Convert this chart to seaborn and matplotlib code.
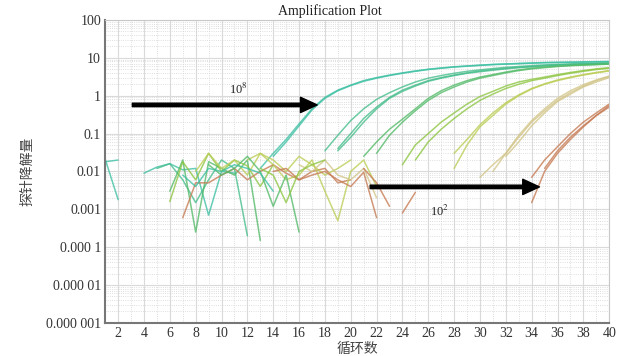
import numpy as np
import pandas as pd
import matplotlib
matplotlib.use("Agg")
import matplotlib.pyplot as plt
from matplotlib.ticker import FixedLocator, MultipleLocator, LogLocator, NullFormatter
import seaborn as sns

# ---- data: amplification curves (start cycle, values per cycle) ----
g8a = (13, [0.012, 0.03, 0.07, 0.18, 0.45, 0.9, 1.4, 1.9, 2.5, 3.0, 3.5, 4.0, 4.5, 5.0,
            5.4, 5.8, 6.1, 6.4, 6.7, 6.9, 7.1, 7.3, 7.5, 7.6, 7.7, 7.8, 7.9, 8.0])
g8b = (14, [0.025, 0.06, 0.16, 0.42, 0.85, 1.35, 1.85, 2.4, 2.9, 3.4, 3.9, 4.4, 4.9, 5.3,
            5.7, 6.0, 6.3, 6.6, 6.8, 7.0, 7.2, 7.4, 7.5, 7.6, 7.7, 7.8, 7.9])
g7a = (18, [0.035, 0.09, 0.22, 0.45, 0.8, 1.2, 1.7, 2.3, 2.9, 3.4, 3.9, 4.4, 4.8, 5.2,
            5.6, 5.9, 6.2, 6.5, 6.7, 6.9, 7.1, 7.2, 7.3])
g7b = (19, [0.04, 0.1, 0.25, 0.5, 0.9, 1.4, 1.9, 2.5, 3.0, 3.5, 4.0, 4.5, 4.9, 5.3,
            5.6, 5.9, 6.2, 6.5, 6.7, 6.9, 7.0, 7.1])
g7c = (19, [0.035, 0.08, 0.2, 0.45, 0.85, 1.3, 1.8, 2.4, 2.9, 3.4, 3.9, 4.3, 4.7, 5.1,
            5.5, 5.8, 6.1, 6.4, 6.6, 6.8, 7.0, 7.2])
g6a = (21, [0.025, 0.06, 0.13, 0.24, 0.45, 0.85, 1.35, 1.9, 2.5, 3.1, 3.6, 4.2, 4.8, 5.3,
            5.7, 6.0, 6.3, 6.5, 6.7, 6.9])
g6b = (22, [0.03, 0.09, 0.2, 0.4, 0.75, 1.2, 1.7, 2.3, 2.9, 3.4, 4.0, 4.6, 5.1, 5.5,
            5.9, 6.2, 6.4, 6.6, 6.8])
g5a = (24, [0.015, 0.05, 0.1, 0.2, 0.35, 0.6, 0.95, 1.3, 1.8, 2.3, 2.7, 3.1, 3.6, 4.1,
            4.6, 5.1, 5.5])
g5b = (25, [0.02, 0.06, 0.13, 0.25, 0.45, 0.75, 1.1, 1.55, 2.0, 2.5, 2.9, 3.4, 3.9, 4.4,
            4.9, 5.3])
g4a = (28, [0.012, 0.05, 0.15, 0.3, 0.6, 1.0, 1.5, 2.0, 2.5, 3.0, 3.5, 4.0, 4.5])
g4b = (28, [0.03, 0.07, 0.17, 0.35, 0.65, 1.05, 1.55, 2.05, 2.6, 3.1, 3.6, 4.1, 4.6])
g3a = (30, [0.007, 0.015, 0.03, 0.08, 0.2, 0.4, 0.75, 1.2, 1.8, 2.5, 3.2])
g3b = (31, [0.01, 0.03, 0.09, 0.22, 0.45, 0.85, 1.35, 1.95, 2.6, 3.3])
g3c = (32, [0.025, 0.06, 0.16, 0.35, 0.7, 1.1, 1.7, 2.3, 3.0])
g2a = (34, [0.0015, 0.01, 0.03, 0.07, 0.15, 0.3, 0.55])
g2b = (34, [0.007, 0.02, 0.045, 0.1, 0.2, 0.35, 0.6])
g2c = (35, [0.012, 0.035, 0.08, 0.16, 0.3, 0.5])

# ---- data: noisy baseline pieces (start cycle, values) ----
n1 = (1, [0.021, 0.0018])
n2 = (1, [0.018, 0.02])
n3 = (4, [0.009, 0.013, 0.016, 0.011, 0.012, 0.0007, 0.01, 0.009])
n4 = (5, [0.012, 0.016, 0.006, 0.0015, 0.006, 0.02, 0.012, 0.0002])
n5 = (6, [0.003, 0.02, 0.00025, 0.018, 0.012, 0.008, 0.02, 0.00015])
n6 = (6, [0.0016, 0.018, 0.006, 0.03, 0.01, 0.02, 0.014, 0.004, 0.015])
n7 = (7, [0.0006, 0.005, 0.005, 0.008, 0.012, 0.006, 0.01, 0.015, 0.009, 0.006, 0.01,
          0.012, 0.005, 0.006])
n8 = (8, [0.01, 0.03, 0.012, 0.02, 0.008, 0.03, 0.02, 0.01, 0.025, 0.015, 0.008, 0.012, 0.02])
n9 = (12, [0.02, 0.03, 0.015, 0.006, 0.008, 0.02, 0.003, 0.0005, 0.01, 0.02, 0.004])
n10 = (9, [0.015, 0.008, 0.012, 0.025, 0.01, 0.0012, 0.008, 0.00025])
n11 = (14, [0.01, 0.012, 0.006, 0.008, 0.01, 0.006, 0.004, 0.0095, 0.0006])
n12 = (24, [0.0008, 0.0028])
n13 = (16, [0.015, 0.01, 0.02, 0.008, 0.006, 0.012, 0.002])
n14 = (7, [0.008, 0.004, 0.012, 0.01, 0.015, 0.012, 0.009, 0.003])
n15 = (13, [0.012, 0.008, 0.0015, 0.01, 0.015, 0.02])
n16 = (21, [0.012, 0.005, 0.0012])

c8, c7, c6, c5, c4, c3, c2 = "#3dc0a3", "#45bd8b", "#52ba68", "#8cc540", "#bccd55", "#d2c588", "#c67a52"

curves = {
    "g8a": (g8a, c8), "g8b": (g8b, c8), "g7a": (g7a, c7), "g7b": (g7b, c7), "g7c": (g7c, c7),
    "g6a": (g6a, c6), "g6b": (g6b, c6), "g5a": (g5a, c5), "g5b": (g5b, c5),
    "g4a": (g4a, c4), "g4b": (g4b, c4), "g3a": (g3a, c3), "g3b": (g3b, c3), "g3c": (g3c, c3),
    "g2a": (g2a, c2), "g2b": (g2b, c2), "g2c": (g2c, c2),
    "n1": (n1, c8), "n2": (n2, c8), "n3": (n3, c8), "n4": (n4, c7), "n5": (n5, c6),
    "n6": (n6, c5), "n7": (n7, c2), "n8": (n8, c4), "n9": (n9, c4), "n10": (n10, c6),
    "n11": (n11, c2), "n12": (n12, c2), "n13": (n13, c3), "n14": (n14, c8), "n15": (n15, c5),
    "n16": (n16, c2),
}

rows = []
for name, ((start, vals), col) in curves.items():
    for i, v in enumerate(vals):
        rows.append({"cycle": start + i, "value": v, "curve": name})
df = pd.DataFrame(rows)
palette = {name: col for name, (_, col) in curves.items()}

sns.set_theme(style="white")
plt.rcParams["font.family"] = ["Liberation Serif", "Noto Sans CJK SC"]
plt.rcParams["mathtext.fontset"] = "stix"

fig = plt.figure(figsize=(6.3, 3.56), dpi=100)
ax = fig.add_axes([0.167, 0.093, 0.8, 0.851])

sns.lineplot(data=df, x="cycle", y="value", hue="curve", palette=palette,
             legend=False, linewidth=1.1, alpha=0.78, estimator=None, ax=ax)

ax.set_yscale("log")
ax.set_xlim(1, 40)
ax.set_ylim(1e-6, 100)

yticks = [1e-6, 1e-5, 1e-4, 1e-3, 1e-2, 1e-1, 1, 10, 100]
ylabels = ["0.000 001", "0.000 01", "0.000 1", "0.001", "0.01", "0.1", "1", "10", "100"]
ax.yaxis.set_major_locator(FixedLocator(yticks))
ax.set_yticklabels(ylabels)
ax.yaxis.set_minor_locator(LogLocator(base=10, subs=np.arange(2, 10)))
ax.yaxis.set_minor_formatter(NullFormatter())
ax.set_xticks(range(2, 41, 2))
ax.xaxis.set_minor_locator(MultipleLocator(1))

ax.grid(which="major", color="#dadada", linewidth=0.8, linestyle="-")
ax.grid(which="minor", color="#d4d4d4", linewidth=0.6, linestyle=":")
ax.tick_params(which="both", length=0, labelsize=10, colors="#333333", pad=3)

for s in ["left", "bottom"]:
    ax.spines[s].set_color("#777777")
    ax.spines[s].set_linewidth(1.5)
for s in ["top", "right"]:
    ax.spines[s].set_color("#c8c8c8")
    ax.spines[s].set_linewidth(0.8)

ax.set_xlabel("循环数", fontsize=10, color="#444444", labelpad=2)
ax.set_ylabel("探针降解量", fontsize=10, color="#444444", labelpad=8)
fig.text(0.524, 0.968, "Amplification Plot", ha="center", va="center",
         fontsize=10, color="#222222")

arrow = dict(facecolor="black", edgecolor="black", width=2.5, headwidth=11, headlength=12)
ax.annotate("", xy=(17.4, 0.57), xytext=(3.1, 0.57), arrowprops=arrow)
ax.annotate("", xy=(34.6, 0.0039), xytext=(21.5, 0.0039), arrowprops=arrow)
ax.text(11.3, 1.45, r"10$^{8}$", ha="center", va="center", fontsize=9, color="#222222")
ax.text(26.9, 0.00088, r"10$^{2}$", ha="center", va="center", fontsize=9, color="#222222")

fig.savefig("out.png", dpi=100)
